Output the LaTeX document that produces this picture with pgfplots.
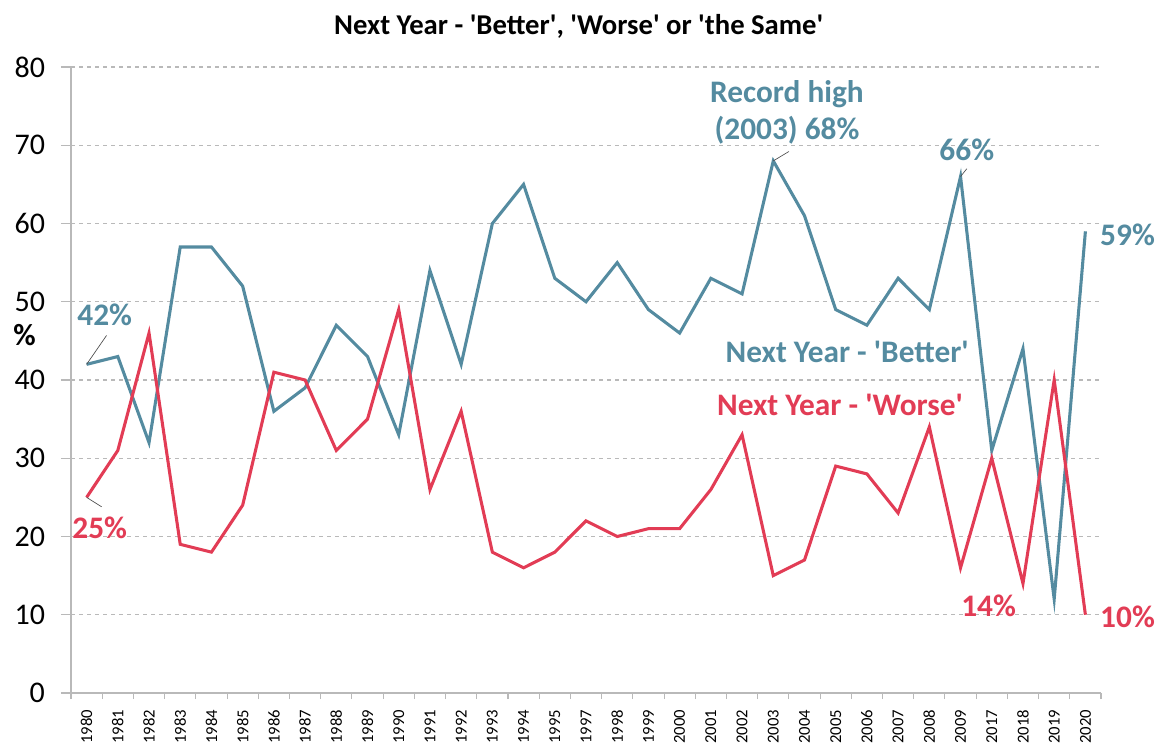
\documentclass[border=0pt]{standalone}
\usepackage{fontspec}
\setmainfont{Carlito}
\usepackage{pgfplots}
\pgfplotsset{compat=1.18}
\definecolor{better}{RGB}{84,139,160}
\definecolor{worse}{RGB}{226,60,85}
\definecolor{gridgray}{RGB}{185,185,185}
\newcommand{\q}{\textquotesingle}
\begin{document}
\begin{tikzpicture}
\useasboundingbox (-53.25pt,-37.5pt) rectangle (816pt,519.75pt);
\begin{axis}[
  at={(0,0)}, anchor=south west,
  scale only axis, width=772.5pt, height=469.5pt,
  xmin=-0.5, xmax=32.5, ymin=0, ymax=80,
  ytick={0,10,...,80},
  xtick={0,...,32},
  xticklabels={1980,1981,1982,1983,1984,1985,1986,1987,1988,1989,1990,1991,1992,1993,1994,1995,1997,1998,1999,2000,2001,2002,2003,2004,2005,2006,2007,2008,2009,2017,2018,2019,2020},
  minor xtick={-0.5,0.5,...,32.5},
  xtick style={draw=none},
  minor x tick style={draw=gridgray, line width=0.8pt},
  y tick style={draw=gridgray, line width=0.8pt},
  major tick length=7.5pt, minor tick length=4.5pt,
  tick pos=left, tick align=outside,
  axis x line*=bottom, axis y line*=left,
  axis line style={gridgray, line width=0.8pt},
  ymajorgrids, grid style={gridgray, dashed, line width=0.8pt},
  /pgf/number format/assume math mode=true,
  yticklabel style={font=\fontsize{22.5}{26}\selectfont, xshift=-8.5pt},
  xticklabel style={font=\fontsize{12.5}{14}\selectfont, rotate=90, anchor=east, inner sep=1pt},
  xticklabel shift=4pt,
  clip=false,
]
\addplot[better, line width=2.3pt] coordinates {
(0,42)(1,43)(2,32)(3,57)(4,57)(5,52)(6,36)(7,39)(8,47)(9,43)(10,33)(11,54)(12,42)(13,60)(14,65)(15,53)
(16,50)(17,55)(18,49)(19,46)(20,53)(21,51)(22,68)(23,61)(24,49)(25,47)(26,53)(27,49)(28,66)
(29,31)(30,44)(31,12)(32,59)};
\addplot[worse, line width=2.3pt] coordinates {
(0,25)(1,31)(2,46)(3,19)(4,18)(5,24)(6,41)(7,40)(8,31)(9,35)(10,49)(11,26)(12,36)(13,18)(14,16)(15,18)
(16,22)(17,20)(18,21)(19,21)(20,26)(21,33)(22,15)(23,17)(24,29)(25,28)(26,23)(27,34)(28,16)
(29,30)(30,14)(31,40)(32,10)};
% leader lines
\draw[black!70, line width=0.5pt] (axis cs:0,42) -- (axis cs:0.64,45.7);
\draw[black!70, line width=0.5pt] (axis cs:0,25) -- (axis cs:0.48,23.8);
\draw[black!70, line width=0.5pt] (axis cs:22,68) -- (axis cs:22.5,69.2);
\draw[black!70, line width=0.5pt] (axis cs:28,66) -- (axis cs:28.2,67);
% labels
\begin{scope}[every node/.style={font=\bfseries\fontsize{23.5}{28}\selectfont, inner sep=0pt}]
\node[better] at (axis cs:0.58,48.3) {42\%};
\node[worse] at (axis cs:0.42,21.1) {25\%};
\node[better, align=center] at (axis cs:22.44,74.2) {Record high\\(2003) 68\%};
\node[better] at (axis cs:28.2,69.4) {66\%};
\node[better] at (axis cs:33.35,58.5) {59\%};
\node[better] at (axis cs:24.37,43.6) {Next Year - \q Better\q};
\node[worse] at (axis cs:24.14,36.8) {Next Year - \q Worse\q};
\node[worse] at (axis cs:28.9,11.2) {14\%};
\node[worse] at (axis cs:33.35,9.7) {10\%};
\end{scope}
\node[font=\bfseries\fontsize{23}{27}\selectfont] at (rel axis cs:-0.045,0.572) {\%};
\node[font=\bfseries\fontsize{21.5}{25}\selectfont, anchor=base] at (axis cs:15.77,84.1) {Next Year - \q Better\q, \q Worse\q\ or \q the Same\q};
\end{axis}
\end{tikzpicture}
\end{document}
